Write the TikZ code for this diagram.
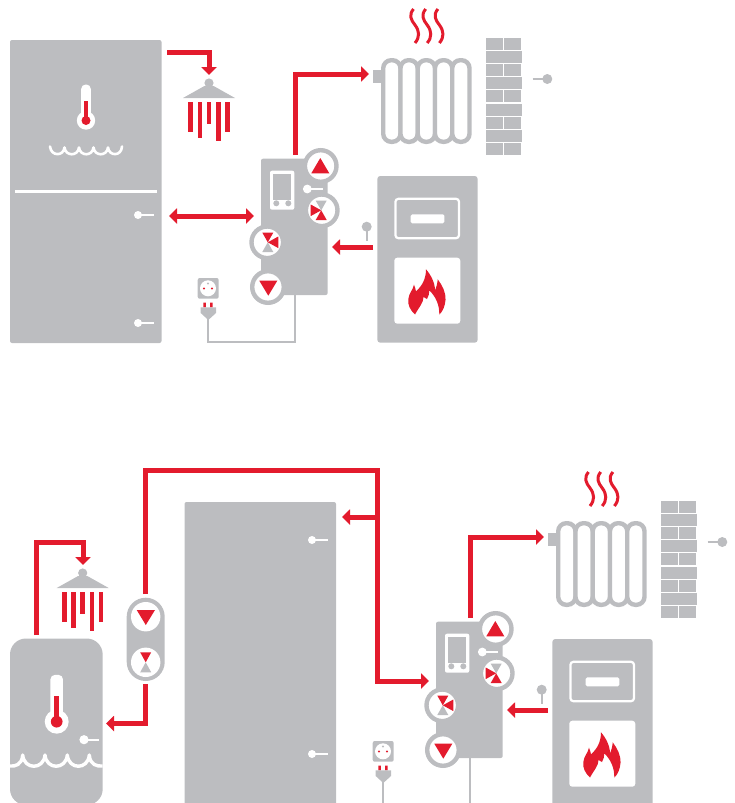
\documentclass[tikz,border=0pt]{standalone}
\usepackage{tikz}
\usepackage{xcolor}
\usetikzlibrary{arrows.meta}

\definecolor{heatred}{HTML}{E31B2D}
\definecolor{plantgrey}{HTML}{BCBDC0}

\tikzset{
	redpipe/.style={draw=heatred, line width=5pt, -{Triangle[width=15pt,length=8pt]}},
	twinpipe/.style={draw=heatred, line width=5pt, {Triangle[width=15pt,length=8pt]}-{Triangle[width=15pt,length=8pt]}},
	pumpring/.style={draw=plantgrey, line width=4.4pt, fill=white},
	wirelink/.style={draw=plantgrey, line width=1.7pt},
	pinstem/.style={draw=plantgrey, line width=2pt},
	whitestem/.style={draw=white, line width=2pt},
	ripple/.style={draw=white, line width=2.6pt, line cap=round, line join=round},
	radsection/.style={draw=plantgrey, line width=4.4pt, fill=white, rounded corners=8pt},
	heatwave/.style={draw=heatred, line width=3pt}
}

% thermometer: x, y of the bulb, scale
\newcommand{\thermoglass}[3]{
	\begin{scope}[shift={(#1,#2)}, scale=#3]
		\fill[white, rounded corners=4.4pt] (-4.8,-36) rectangle (4.8,0);
		\fill[white] (0,0) circle (9.2pt);
		\fill[heatred] (-2.1,-19.5) rectangle (2.1,0);
		\fill[heatred] (0,0) circle (4.5pt);
	\end{scope}
}
% shower head and its falling water
\newcommand{\showerhead}[2]{
	\begin{scope}[shift={(#1,#2)}]
		\fill[plantgrey] (209,83) circle (4.6pt);
		\fill[plantgrey] (183,98) -- (204.4,86) -- (213.6,86) -- (235,98) -- cycle;
		\foreach \xb/\yb in {188.3/132,197.5/138,206.7/124,216/141,225/132}
			\fill[heatred] (\xb,102) rectangle (\xb+4.7,\yb);
	\end{scope}
}
% three way valve: x, y, rotation
\newcommand{\threeway}[3]{
	\begin{scope}[shift={(#1,#2)}, rotate=#3]
		\fill[plantgrey] (-0.5,0) -- (-6,-9.7) -- (5,-9.7) -- cycle;
		\fill[heatred] (-0.5,0) -- (-6,9.7) -- (5,9.7) -- cycle;
		\fill[heatred] (-0.5,0) -- (-11,-5.8) -- (-11,5.8) -- cycle;
	\end{scope}
}
% controller, radiator, wall, boiler and plug as one set
\newcommand{\heatset}[3]{
	\begin{scope}[shift={(#2,#3)}]
		% controller
		\fill[plantgrey, rounded corners=2pt] (261,158.7) rectangle (327.7,295);
		\fill[white, rounded corners=2pt] (270,170.7) rectangle (294.3,209.7);
		\fill[plantgrey] (273.3,174) rectangle (291,200);
		\fill[plantgrey] (276.3,203.3) circle (3pt) (288.3,203.3) circle (3pt);
		\draw[whitestem] (307.3,189) -- (323,189);
		\fill[white] (307.3,189) circle (4.4pt);
		\draw[pumpring] (320.7,166) circle (15.8pt);
		\fill[heatred] (320.3,158) -- (329.3,173.3) -- (311.3,173.3) -- cycle;
		\draw[pumpring] (321.7,210.3) circle (15.8pt);
		\threeway{321.7}{210.3}{0}
		\draw[pumpring] (267.3,242.3) circle (15.8pt);
		\threeway{267.3}{242.3}{180}
		\draw[pumpring] (268,287) circle (15.8pt);
		\fill[heatred] (259.3,280.7) -- (277.3,280.7) -- (268.3,295.7) -- cycle;
		% radiator
		\fill[plantgrey] (373.3,70) rectangle (382,82.7);
		\foreach \i in {0,...,4}
			\draw[radsection] ({383.2+17.26*\i},60.2) rectangle ++(17.26,81.6);
		\foreach \i in {0,12.2,24.4}
			\draw[heatwave, xshift=\i pt] (413.5,9) .. controls (408.5,15) and (411,20) .. (415,25) .. controls (419.5,31) and (420,37) .. (415,43);
		% brick wall
		\foreach \row in {0,2,4,6,8} {
			\fill[plantgrey] (486,{38+13.1*\row}) rectangle ++(17,12);
			\fill[plantgrey] (504,{38+13.1*\row}) rectangle ++(17,12);
		}
		\foreach \row in {1,3,5,7}
			\fill[plantgrey] (486,{38+13.1*\row}) rectangle ++(36,12);
		\draw[pinstem] (532.7,79) -- (547,79);
		\fill[plantgrey] (547.3,79) circle (5pt);
		% boiler
		\fill[plantgrey, rounded corners=3pt] (377.3,176) rectangle (477.7,342.7);
		\draw[white, line width=2.2pt, rounded corners=3pt] (395.4,198.8) rectangle (459,238.2);
		\fill[white, rounded corners=1.5pt] (410.7,214.3) rectangle (444.3,223.3);
		\fill[white, rounded corners=3pt] (394.3,257.7) rectangle (460.3,323.7);
		\fill[heatred] (415,314.5) .. controls (410,310) and (407.5,304.5) .. (408.3,299) .. controls (409,293) and (413,290) .. (414,284.7)
			.. controls (415,287) and (415.5,289) .. (416,291.3) .. controls (422,286) and (426,279) .. (426,269.3)
			.. controls (431,275) and (435,283) .. (435,290.3) .. controls (436.5,287) and (437.5,283) .. (437.7,279.3)
			.. controls (442,285) and (446,292) .. (445.5,300) .. controls (445,306) and (443,311) .. (439.3,314.7)
			.. controls (439.5,305) and (436,297) .. (429.3,290.3) .. controls (429.5,293.5) and (428.5,296) .. (427,299)
			.. controls (426,298) and (425,297.5) .. (423.5,297) .. controls (423.5,303) and (419,307) .. (415,314.5) -- cycle;
		\draw[pinstem] (366.7,226) -- (366.7,241);
		\fill[plantgrey] (366.7,226.7) circle (5pt);
		% plug
		\fill[plantgrey, rounded corners=2pt] (197.7,278) rectangle (218.7,298.7);
		\fill[white] (208,288.3) circle (8pt);
		\fill[heatred] (204,288.4) circle (1.1pt) (212,288.4) circle (1.1pt);
		\fill[plantgrey] (208,283.4) circle (1.1pt);
		\fill[heatred] (203.3,302.7) rectangle (205.8,307.3) (210.2,302.7) rectangle (212.7,307.3);
		\fill[plantgrey] (200.7,307.3) -- (216,307.3) -- (216,313) -- (208.3,320) -- (200.7,313) -- cycle;
		\draw[wirelink] (208.3,318) -- (208.3,342) -- (295.3,342) -- (295.3,295);
		% pipe ends of this set
		\coordinate (ctrlout#1) at (295,155);
		\coordinate (ctrlbend#1) at (295,74);
		\coordinate (radin#1) at (369,74);
		\coordinate (boilerout#1) at (373,247);
		\coordinate (ctrlback#1) at (332,247);
	\end{scope}
	\draw[redpipe] (ctrlout#1) -- (ctrlbend#1) -- (radin#1);
	\draw[redpipe] (boilerout#1) -- (ctrlback#1);
}

\begin{document}
\begin{tikzpicture}[x=1pt, y=-1pt]
	\useasboundingbox (0,0) rectangle (734,803);
	\clip (0,0) rectangle (734,803);

	% Upper plant
	\fill[plantgrey, rounded corners=2pt] (10,40) rectangle (161.5,343);
	\thermoglass{86}{120.5}{1}
	\draw[ripple] (50,146.5) .. controls (51,156.5) and (63.5,156.5) .. (64.5,147.5)
		.. controls (65.5,156.5) and (78,156.5) .. (79,147.5)
		.. controls (80,156.5) and (92.5,156.5) .. (93.5,147.5)
		.. controls (94.5,156.5) and (107,156.5) .. (108,147.5)
		.. controls (109,156.5) and (121.5,156.5) .. (122,146.5);
	\fill[white] (15,190) rectangle (157,192.7);
	\foreach \ypin in {215,323} {
		\draw[whitestem] (138,\ypin) -- (154,\ypin);
		\fill[white] (138,\ypin) circle (4pt);
	}
	\showerhead{0}{0}
	\heatset{A}{0}{0}
	\coordinate (tankout) at (167,52);
	\coordinate (showerbend) at (209,52);
	\coordinate (showerin) at (209,75);
	\coordinate (tankside) at (169,216);
	\coordinate (ctrlside) at (254,216);
	\draw[redpipe] (tankout) -- (showerbend) -- (showerin);
	\draw[twinpipe] (tankside) -- (ctrlside);

	% Lower plant
	\fill[plantgrey, rounded corners=16pt] (10,638.5) rectangle (102.7,805);
	\thermoglass{56.7}{721.7}{1.3}
	\draw[whitestem] (84,739.7) -- (99,739.7);
	\fill[white] (84,739.7) circle (4.6pt);
	\draw[ripple, line width=3.4pt, line cap=butt] (10,766) .. controls (15,766.5) and (22,765) .. (22.7,755)
		.. controls (24,770) and (43.7,770) .. (45,755)
		.. controls (46.3,770) and (66,770) .. (67.3,755)
		.. controls (68.6,770) and (88,770) .. (89.3,755)
		.. controls (90,765) and (97,766.5) .. (102.7,766);
	\showerhead{-126.3}{490}
	\fill[plantgrey, rounded corners=2pt] (184.5,502) rectangle (336,820);
	\foreach \ypin in {540,754} {
		\draw[whitestem] (312,\ypin) -- (328,\ypin);
		\fill[white] (312,\ypin) circle (4pt);
	}
	\fill[plantgrey, rounded corners=19pt] (126.7,597.7) rectangle (164.7,681);
	\fill[white] (145.7,616.7) circle (14.7pt) (145.7,662.3) circle (14.7pt);
	\fill[heatred] (136.7,610) -- (155,610) -- (145.8,625) -- cycle;
	\fill[heatred] (145.7,662.3) -- (140.2,652.3) -- (151.2,652.3) -- cycle;
	\fill[plantgrey] (145.7,662.3) -- (140.2,672.3) -- (151.2,672.3) -- cycle;
	\heatset{B}{175}{463}
	\coordinate (storeout) at (36,635);
	\coordinate (storetop) at (36,542);
	\coordinate (lowshowerbend) at (83,542);
	\coordinate (lowshowerin) at (83,565);
	\coordinate (pumpup) at (145.7,594);
	\coordinate (loopleft) at (145.7,470);
	\coordinate (loopright) at (377,470);
	\coordinate (loopbranch) at (377,517);
	\coordinate (buffertop) at (342,517);
	\coordinate (loopfoot) at (377,681);
	\coordinate (ctrlinB) at (429,681);
	\coordinate (pumpdown) at (145.7,684);
	\coordinate (returnbend) at (145.7,723.5);
	\coordinate (storeback) at (106,723.5);
	\draw[redpipe] (storeout) -- (storetop) -- (lowshowerbend) -- (lowshowerin);
	\draw[redpipe] (pumpup) -- (loopleft) -- (loopright) -- (loopfoot) -- (ctrlinB);
	\draw[redpipe] (loopbranch) -- (buffertop);
	\draw[redpipe] (pumpdown) -- (returnbend) -- (storeback);
\end{tikzpicture}
\end{document}
